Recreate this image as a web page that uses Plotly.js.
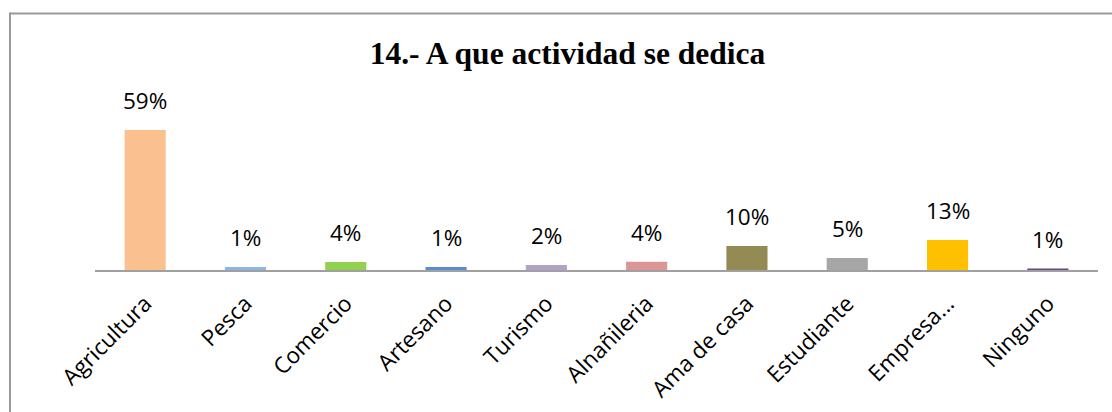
<!DOCTYPE html>
<html>
<head>
<meta charset="utf-8">
<script src="https://cdn.plot.ly/plotly-3.0.1.min.js"></script>
<style>html,body{margin:0;padding:0;background:#fff;}#chart{width:1112px;height:412px;}</style>
</head>
<body>
<div id="chart"></div>
<script>
const categories = ['Agricultura','Pesca','Comercio','Artesano','Turismo','Alnañileria','Ama de casa','Estudiante','Empresa...','Ninguno'];
const values = [59, 1.3, 3.4, 1.3, 2.1, 3.5, 10.1, 5.1, 12.6, 0.6];
const valueLabels = ['59%','1%','4%','1%','2%','4%','10%','5%','13%','1%'];
const barColors = ['#FAC090','#8EB4E3','#92D050','#558ED5','#B3A2C7','#D99694','#948A54','#A6A6A6','#FFC000','#604A7B'];

const L = 95, R = 1112 - 1098, T = 100, B = 142;
const plotW = 1112 - L - R, plotH = 412 - T - B;
const px2x = p => (p - L) / plotW;
const py2y = p => (412 - B - p) / plotH;

const labelFont = {family: '"Open Sans", "Noto Sans", sans-serif', size: 22.5, color: '#000'};

const data = [{
  type: 'bar',
  x: categories,
  y: values,
  marker: {color: barColors},
  width: 0.41,
  hoverinfo: 'none'
}];

const annotations = categories.map((c, i) => ({
  x: c, y: values[i], xref: 'x', yref: 'y',
  text: valueLabels[i], showarrow: false,
  yanchor: 'bottom', xanchor: 'center', yshift: 12,
  font: labelFont
}));

const layout = {
  width: 1112, height: 412,
  margin: {l: L, r: R, t: T, b: B, pad: 0},
  paper_bgcolor: '#fff', plot_bgcolor: '#fff',
  showlegend: false,
  title: {
    text: '<b>14.- A que actividad se dedica</b>',
    font: {family: '"Liberation Serif", "Times New Roman", serif', size: 31.5, color: '#000'},
    x: 567.5 / 1112, xref: 'container', xanchor: 'center',
    y: 1 - 53 / 412, yref: 'container', yanchor: 'middle'
  },
  xaxis: {
    type: 'category', range: [-0.5, 9.5],
    showline: true, linecolor: '#A0A0A0', linewidth: 1.5,
    ticks: '', tickangle: -45, tickfont: labelFont, ticklabelstandoff: 10,
    showgrid: false, zeroline: false, fixedrange: true
  },
  yaxis: {
    range: [0, plotH / (140 / 59)],
    showticklabels: false, showgrid: false, zeroline: false, showline: false, fixedrange: true
  },
  annotations: annotations,
  shapes: [
    {type: 'line', xref: 'paper', yref: 'paper', x0: px2x(10), x1: px2x(1120), y0: py2y(13.5), y1: py2y(13.5), line: {color: '#9A9A9A', width: 2}},
    {type: 'line', xref: 'paper', yref: 'paper', x0: px2x(10), x1: px2x(10), y0: py2y(12.5), y1: py2y(420), line: {color: '#9A9A9A', width: 2}}
  ]
};

Plotly.newPlot('chart', data, layout, {staticPlot: true, displayModeBar: false});
</script>
</body>
</html>
